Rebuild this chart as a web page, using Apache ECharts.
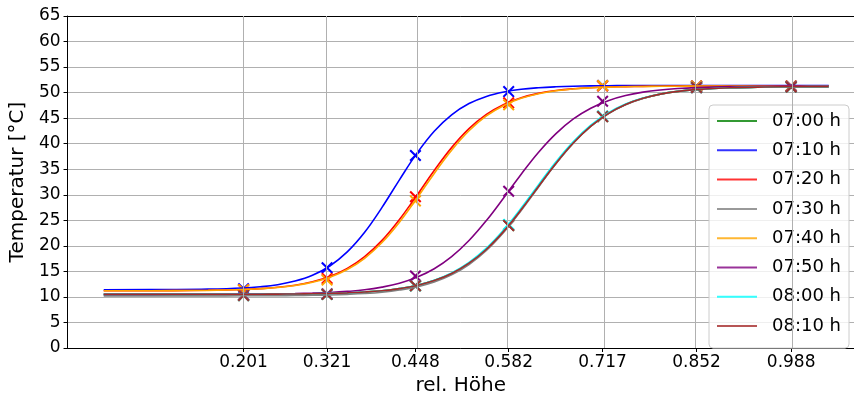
<!DOCTYPE html>
<html><head><meta charset="utf-8">
<script src="https://cdn.jsdelivr.net/npm/echarts@6/dist/echarts.min.js"></script>
<style>html,body{margin:0;padding:0;background:#fff}#c{width:854px;height:401px}</style>
</head><body><div id="c"></div>
<script>
// tick positions / measured heights
const xTicks = [0.201, 0.321, 0.448, 0.582, 0.717, 0.852, 0.988];
const seriesNames = ['07:00 h','07:10 h','07:20 h','07:30 h','07:40 h','07:50 h','08:00 h','08:10 h'];
const seriesColors = ['#008000','#0000ff','#ff0000','#808080','#ffa500','#800080','#00ffff','#a52a2a'];

// fitted curves
const xFit = [0, 0.1, 0.15, 0.2, 0.225, 0.25, 0.275, 0.3, 0.325, 0.35, 0.375, 0.4, 0.425, 0.45, 0.475, 0.5, 0.525, 0.55, 0.575, 0.6, 0.625, 0.65, 0.675, 0.7, 0.725, 0.75, 0.775, 0.8, 0.825, 0.85, 0.9, 0.95, 1.0, 1.042];
const fit0700 = [10.50,10.50,10.51,10.52,10.53,10.55,10.58,10.62,10.69,10.80,10.96,11.21,11.63,12.25,13.20,14.59,16.60,19.34,22.88,27.10,31.68,36.18,40.18,43.44,45.90,47.67,48.88,49.70,50.24,50.58,50.95,51.10,51.16,51.18];
const fit0710 = [11.40,11.44,11.52,11.74,11.99,12.40,13.10,14.24,16.06,18.81,22.66,27.53,32.92,38.10,42.44,45.66,47.86,49.26,50.13,50.66,50.96,51.14,51.25,51.31,51.35,51.37,51.38,51.39,51.39,51.40,51.40,51.40,51.40,51.40];
const fit0720 = [11.20,11.24,11.30,11.46,11.62,11.88,12.30,12.97,14.00,15.58,17.89,21.08,25.16,29.88,34.75,39.23,42.94,45.73,47.69,49.01,49.86,50.41,50.75,50.96,51.09,51.17,51.22,51.25,51.27,51.28,51.29,51.30,51.30,51.30];
const fit0730 = [10.20,10.20,10.21,10.22,10.23,10.25,10.28,10.32,10.39,10.50,10.66,10.92,11.34,11.96,12.92,14.32,16.35,19.11,22.67,26.92,31.54,36.07,40.10,43.38,45.86,47.64,48.86,49.69,50.23,50.58,50.95,51.10,51.16,51.18];
const fit0740 = [11.20,11.23,11.29,11.44,11.60,11.84,12.24,12.87,13.85,15.36,17.57,20.65,24.63,29.29,34.18,38.73,42.54,45.44,47.49,48.88,49.78,50.36,50.72,50.94,51.08,51.16,51.21,51.24,51.26,51.28,51.29,51.30,51.30,51.30];
const fit0750 = [10.50,10.51,10.52,10.54,10.56,10.60,10.65,10.74,10.87,11.08,11.39,11.92,12.68,13.84,15.52,17.89,21.04,24.96,29.42,34.03,38.33,41.98,44.85,46.95,48.43,49.43,50.09,50.52,50.80,50.98,51.17,51.25,51.28,51.29];
const fit0800 = [10.50,10.50,10.51,10.52,10.53,10.55,10.58,10.62,10.69,10.80,10.97,11.22,11.65,12.30,13.28,14.70,16.76,19.54,23.13,27.39,31.98,36.46,40.41,43.63,46.04,47.77,48.94,49.74,50.26,50.59,50.95,51.10,51.16,51.18];
const fit0810 = [10.50,10.50,10.51,10.52,10.53,10.55,10.58,10.62,10.69,10.80,10.96,11.21,11.63,12.25,13.20,14.59,16.60,19.34,22.88,27.10,31.68,36.18,40.18,43.44,45.90,47.67,48.88,49.70,50.24,50.58,50.95,51.10,51.16,51.18];

// measured points (x markers) at xTicks
const meas0700 = [10.3,10.5,12.2,24.0,45.3,51.0,51.1];
const meas0710 = [11.6,15.7,37.7,50.2,51.4,51.3,51.3];
const meas0720 = [11.4,13.6,29.6,48.0,51.3,51.3,51.3];
const meas0730 = [10.3,10.5,12.2,24.0,45.3,51.0,51.1];
const meas0740 = [11.4,13.3,28.8,47.6,51.4,51.3,51.3];
const meas0750 = [10.4,10.6,14.1,30.7,48.3,51.0,51.2];
const meas0800 = [10.3,10.5,12.2,24.2,45.4,51.0,51.1];
const meas0810 = [10.3,10.5,12.2,24.0,45.3,51.0,51.1];

const fits = [fit0700,fit0710,fit0720,fit0730,fit0740,fit0750,fit0800,fit0810];
const meas = [meas0700,meas0710,meas0720,meas0730,meas0740,meas0750,meas0800,meas0810];

const FONT = 'DejaVu Sans';
const xSym = 'path://M0,1.2 L1.2,0 L5,3.8 L8.8,0 L10,1.2 L6.2,5 L10,8.8 L8.8,10 L5,6.2 L1.2,10 L0,8.8 L3.8,5 Z';

const series = [];
seriesNames.forEach((name, i) => {
  const s = {
    name: name, type: 'line', smooth: 0.4,
    symbol: 'none', showSymbol: false, silent: true,
    data: xFit.map((x, k) => [x, fits[i][k]]),
    lineStyle: {color: seriesColors[i], width: 1.6},
    itemStyle: {color: seriesColors[i]},
    emphasis: {disabled: true}
  };
  if (i === 0) {
    s.markLine = {
      silent: true, symbol: ['none','none'], animation: false,
      label: {show: false},
      lineStyle: {color: '#b0b0b0', width: 1, type: 'solid'},
      emphasis: {disabled: true},
      data: xTicks.map(v => ({xAxis: v}))
    };
  }
  series.push(s);
  series.push({
    name: name + ' Messung', type: 'scatter', silent: true,
    symbol: xSym, symbolSize: 12,
    data: xTicks.map((x, k) => [x, meas[i][k]]),
    itemStyle: {color: seriesColors[i], opacity: 1},
    emphasis: {disabled: true}
  });
});

const chart = echarts.init(document.getElementById('c'), null, {renderer: 'canvas'});
chart.setOption({
  animation: false,
  backgroundColor: '#ffffff',
  textStyle: {fontFamily: FONT, color: '#000'},
  grid: {left: 64, top: 16, width: 790, height: 333, show: false},
  legend: {
    data: seriesNames, orient: 'vertical', left: 709, top: 105,
    itemWidth: 40, itemHeight: 17, itemGap: 11.3,
    padding: [7, 8, 13, 7],
    backgroundColor: 'rgba(255,255,255,0.8)', borderColor: '#cccccc', borderWidth: 1, borderRadius: 4,
    itemStyle: {opacity: 0, borderWidth: 0},
    lineStyle: {width: 2, opacity: 0.8},
    textStyle: {fontFamily: FONT, fontSize: 18, color: '#000', padding: [0,0,0,10]},
    selectedMode: false
  },
  xAxis: [{
    type: 'value', min: -0.052, max: 1.0783,
    name: 'rel. Höhe', nameLocation: 'middle', nameGap: 28,
    nameTextStyle: {fontFamily: FONT, fontSize: 20, color: '#000'},
    axisLine: {show: true, onZero: false, lineStyle: {color: '#000', width: 1}},
    axisTick: {show: true, customValues: xTicks, length: 4, lineStyle: {color: '#000'}},
    axisLabel: {customValues: xTicks, formatter: v => Number(v).toFixed(3), fontFamily: FONT, fontSize: 17, color: '#000', margin: 6},
    splitLine: {show: false}
  }, {
    type: 'value', position: 'top', min: -0.052, max: 1.0783,
    axisLine: {show: true, onZero: false, lineStyle: {color: '#000', width: 1}},
    axisTick: {show: false}, axisLabel: {show: false}, splitLine: {show: false}
  }],
  yAxis: {
    type: 'value', min: 0, max: 65, interval: 5,
    name: 'Temperatur [°C]', nameLocation: 'middle', nameGap: 30, nameRotate: 90,
    nameTextStyle: {fontFamily: FONT, fontSize: 20, color: '#000'},
    axisLine: {show: true, onZero: false, lineStyle: {color: '#000', width: 1}},
    axisTick: {show: true, length: 4, lineStyle: {color: '#000'}},
    axisLabel: {fontFamily: FONT, fontSize: 17, color: '#000', margin: 7},
    splitLine: {show: true, lineStyle: {color: '#b0b0b0', width: 1}}
  },
  series: series
});
</script></body></html>
